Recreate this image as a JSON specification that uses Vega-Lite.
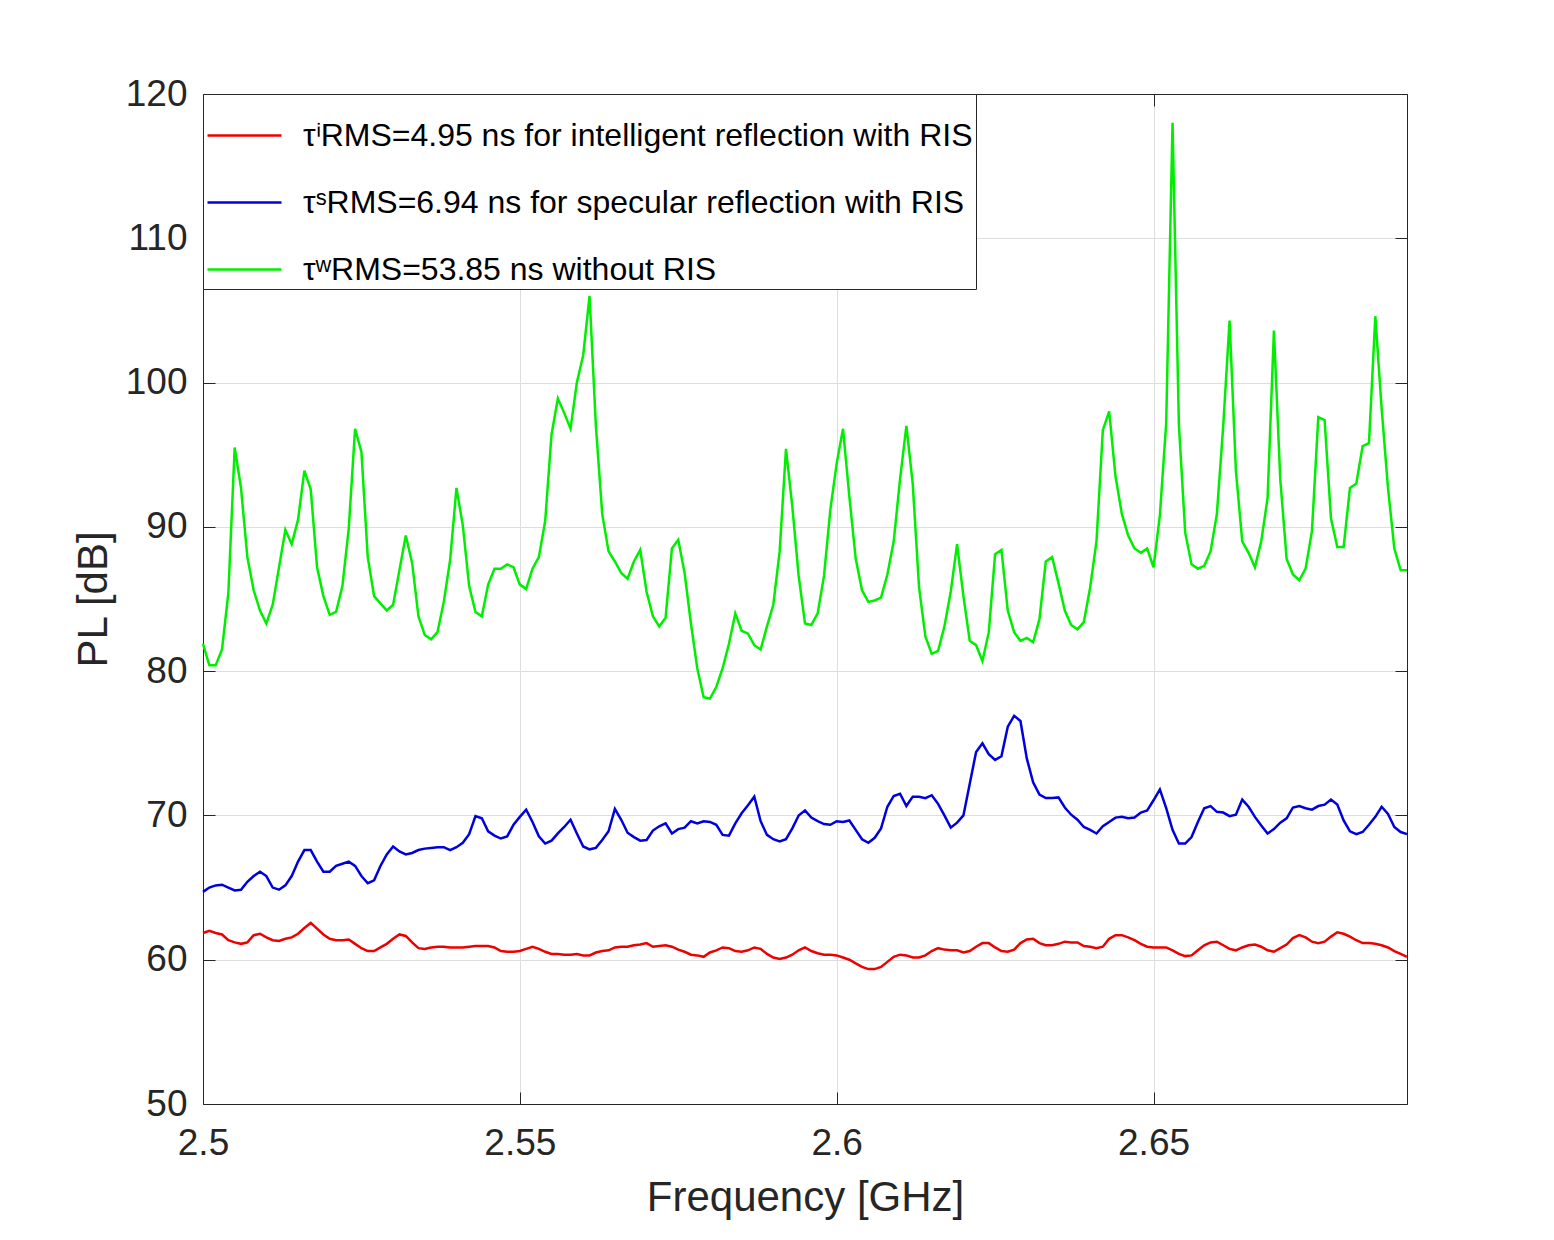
{
  "$schema": "https://vega.github.io/schema/vega-lite/v6.json",
  "width": 1204,
  "height": 1010,
  "autosize": "none",
  "padding": {"left": 203, "top": 94, "right": 147, "bottom": 136},
  "background": "white",
  "data": {
    "values": [
      {"f": 2.5, "i": 61.85, "s": 64.7, "w": 81.9},
      {"f": 2.501, "i": 62.0, "s": 65.0, "w": 80.4},
      {"f": 2.502, "i": 61.85, "s": 65.15, "w": 80.4},
      {"f": 2.503, "i": 61.75, "s": 65.2, "w": 81.5},
      {"f": 2.504, "i": 61.35, "s": 65.0, "w": 85.4},
      {"f": 2.505, "i": 61.2, "s": 64.8, "w": 95.5},
      {"f": 2.506, "i": 61.1, "s": 64.85, "w": 92.7},
      {"f": 2.507, "i": 61.2, "s": 65.4, "w": 87.9},
      {"f": 2.508, "i": 61.7, "s": 65.8, "w": 85.6},
      {"f": 2.509, "i": 61.8, "s": 66.1, "w": 84.2},
      {"f": 2.51, "i": 61.55, "s": 65.8, "w": 83.3},
      {"f": 2.511, "i": 61.35, "s": 65.0, "w": 84.6},
      {"f": 2.512, "i": 61.3, "s": 64.85, "w": 87.2},
      {"f": 2.513, "i": 61.45, "s": 65.15, "w": 89.8},
      {"f": 2.514, "i": 61.55, "s": 65.8, "w": 88.8},
      {"f": 2.515, "i": 61.8, "s": 66.8, "w": 90.5},
      {"f": 2.516, "i": 62.2, "s": 67.6, "w": 93.9},
      {"f": 2.517, "i": 62.55, "s": 67.6, "w": 92.6},
      {"f": 2.518, "i": 62.15, "s": 66.8, "w": 87.2},
      {"f": 2.519, "i": 61.75, "s": 66.1, "w": 85.2},
      {"f": 2.52, "i": 61.45, "s": 66.1, "w": 83.9},
      {"f": 2.521, "i": 61.35, "s": 66.5, "w": 84.1},
      {"f": 2.522, "i": 61.35, "s": 66.65, "w": 85.9},
      {"f": 2.523, "i": 61.4, "s": 66.8, "w": 89.9},
      {"f": 2.524, "i": 61.1, "s": 66.5, "w": 96.8},
      {"f": 2.525, "i": 60.8, "s": 65.8, "w": 95.2},
      {"f": 2.526, "i": 60.6, "s": 65.3, "w": 87.9},
      {"f": 2.527, "i": 60.6, "s": 65.5, "w": 85.2},
      {"f": 2.528, "i": 60.85, "s": 66.5, "w": 84.7},
      {"f": 2.529, "i": 61.1, "s": 67.3, "w": 84.2},
      {"f": 2.53, "i": 61.45, "s": 67.85, "w": 84.6},
      {"f": 2.531, "i": 61.75, "s": 67.5, "w": 87.0},
      {"f": 2.532, "i": 61.65, "s": 67.3, "w": 89.4},
      {"f": 2.533, "i": 61.2, "s": 67.4, "w": 87.5},
      {"f": 2.534, "i": 60.8, "s": 67.6, "w": 83.8},
      {"f": 2.535, "i": 60.75, "s": 67.7, "w": 82.5},
      {"f": 2.536, "i": 60.85, "s": 67.75, "w": 82.2},
      {"f": 2.537, "i": 60.9, "s": 67.8, "w": 82.7},
      {"f": 2.538, "i": 60.9, "s": 67.8, "w": 84.8},
      {"f": 2.539, "i": 60.85, "s": 67.6, "w": 87.7},
      {"f": 2.54, "i": 60.85, "s": 67.8, "w": 92.7},
      {"f": 2.541, "i": 60.85, "s": 68.1, "w": 90.1},
      {"f": 2.542, "i": 60.9, "s": 68.7, "w": 85.9},
      {"f": 2.543, "i": 60.95, "s": 69.95, "w": 84.1},
      {"f": 2.544, "i": 60.95, "s": 69.8, "w": 83.8},
      {"f": 2.545, "i": 60.95, "s": 68.9, "w": 86.0},
      {"f": 2.546, "i": 60.85, "s": 68.6, "w": 87.1},
      {"f": 2.547, "i": 60.6, "s": 68.4, "w": 87.1},
      {"f": 2.548, "i": 60.55, "s": 68.55, "w": 87.4},
      {"f": 2.549, "i": 60.55, "s": 69.35, "w": 87.2},
      {"f": 2.55, "i": 60.6, "s": 69.9, "w": 86.0},
      {"f": 2.551, "i": 60.75, "s": 70.4, "w": 85.7},
      {"f": 2.552, "i": 60.9, "s": 69.55, "w": 87.1},
      {"f": 2.553, "i": 60.75, "s": 68.55, "w": 87.9},
      {"f": 2.554, "i": 60.55, "s": 68.05, "w": 90.4},
      {"f": 2.555, "i": 60.4, "s": 68.25, "w": 96.4},
      {"f": 2.556, "i": 60.4, "s": 68.75, "w": 98.9},
      {"f": 2.557, "i": 60.35, "s": 69.2, "w": 97.9},
      {"f": 2.558, "i": 60.35, "s": 69.7, "w": 96.8},
      {"f": 2.559, "i": 60.4, "s": 68.75, "w": 100.0},
      {"f": 2.56, "i": 60.3, "s": 67.85, "w": 101.9},
      {"f": 2.561, "i": 60.3, "s": 67.65, "w": 106.0},
      {"f": 2.562, "i": 60.5, "s": 67.75, "w": 97.0},
      {"f": 2.563, "i": 60.6, "s": 68.3, "w": 90.9},
      {"f": 2.564, "i": 60.65, "s": 68.9, "w": 88.3},
      {"f": 2.565, "i": 60.85, "s": 70.45, "w": 87.6},
      {"f": 2.566, "i": 60.9, "s": 69.7, "w": 86.8},
      {"f": 2.567, "i": 60.9, "s": 68.8, "w": 86.4},
      {"f": 2.568, "i": 61.0, "s": 68.5, "w": 87.6},
      {"f": 2.569, "i": 61.05, "s": 68.25, "w": 88.4},
      {"f": 2.57, "i": 61.15, "s": 68.3, "w": 85.5},
      {"f": 2.571, "i": 60.9, "s": 68.95, "w": 83.8},
      {"f": 2.572, "i": 60.95, "s": 69.25, "w": 83.1},
      {"f": 2.573, "i": 61.0, "s": 69.45, "w": 83.7},
      {"f": 2.574, "i": 60.9, "s": 68.75, "w": 88.5},
      {"f": 2.575, "i": 60.7, "s": 69.05, "w": 89.1},
      {"f": 2.576, "i": 60.55, "s": 69.15, "w": 86.8},
      {"f": 2.577, "i": 60.35, "s": 69.6, "w": 83.3},
      {"f": 2.578, "i": 60.3, "s": 69.45, "w": 80.2},
      {"f": 2.579, "i": 60.2, "s": 69.6, "w": 78.2},
      {"f": 2.58, "i": 60.5, "s": 69.55, "w": 78.1},
      {"f": 2.581, "i": 60.65, "s": 69.35, "w": 78.9},
      {"f": 2.582, "i": 60.85, "s": 68.65, "w": 80.2},
      {"f": 2.583, "i": 60.8, "s": 68.6, "w": 81.9},
      {"f": 2.584, "i": 60.6, "s": 69.45, "w": 84.0},
      {"f": 2.585, "i": 60.55, "s": 70.15, "w": 82.8},
      {"f": 2.586, "i": 60.65, "s": 70.7, "w": 82.6},
      {"f": 2.587, "i": 60.85, "s": 71.3, "w": 81.8},
      {"f": 2.588, "i": 60.75, "s": 69.6, "w": 81.5},
      {"f": 2.589, "i": 60.4, "s": 68.65, "w": 83.1},
      {"f": 2.59, "i": 60.15, "s": 68.35, "w": 84.6},
      {"f": 2.591, "i": 60.05, "s": 68.2, "w": 88.3},
      {"f": 2.592, "i": 60.15, "s": 68.35, "w": 95.4},
      {"f": 2.593, "i": 60.35, "s": 69.1, "w": 91.4},
      {"f": 2.594, "i": 60.65, "s": 70.0, "w": 86.6},
      {"f": 2.595, "i": 60.85, "s": 70.35, "w": 83.3},
      {"f": 2.596, "i": 60.6, "s": 69.85, "w": 83.2},
      {"f": 2.597, "i": 60.45, "s": 69.6, "w": 84.0},
      {"f": 2.598, "i": 60.35, "s": 69.4, "w": 86.6},
      {"f": 2.599, "i": 60.35, "s": 69.35, "w": 91.2},
      {"f": 2.6, "i": 60.3, "s": 69.6, "w": 94.4},
      {"f": 2.601, "i": 60.15, "s": 69.55, "w": 96.8},
      {"f": 2.602, "i": 60.0, "s": 69.65, "w": 92.1},
      {"f": 2.603, "i": 59.75, "s": 69.0, "w": 87.8},
      {"f": 2.604, "i": 59.5, "s": 68.35, "w": 85.6},
      {"f": 2.605, "i": 59.35, "s": 68.1, "w": 84.8},
      {"f": 2.606, "i": 59.35, "s": 68.45, "w": 84.9},
      {"f": 2.607, "i": 59.5, "s": 69.1, "w": 85.1},
      {"f": 2.608, "i": 59.85, "s": 70.6, "w": 86.7},
      {"f": 2.609, "i": 60.2, "s": 71.35, "w": 89.0},
      {"f": 2.61, "i": 60.35, "s": 71.5, "w": 93.3},
      {"f": 2.611, "i": 60.3, "s": 70.65, "w": 97.0},
      {"f": 2.612, "i": 60.15, "s": 71.3, "w": 93.0},
      {"f": 2.613, "i": 60.15, "s": 71.3, "w": 85.8},
      {"f": 2.614, "i": 60.3, "s": 71.2, "w": 82.4},
      {"f": 2.615, "i": 60.6, "s": 71.4, "w": 81.2},
      {"f": 2.616, "i": 60.8, "s": 70.8, "w": 81.4},
      {"f": 2.617, "i": 60.7, "s": 70.0, "w": 83.1},
      {"f": 2.618, "i": 60.65, "s": 69.15, "w": 85.5},
      {"f": 2.619, "i": 60.65, "s": 69.5, "w": 88.8},
      {"f": 2.62, "i": 60.5, "s": 70.0, "w": 85.2},
      {"f": 2.621, "i": 60.6, "s": 72.2, "w": 82.1},
      {"f": 2.622, "i": 60.9, "s": 74.4, "w": 81.8},
      {"f": 2.623, "i": 61.15, "s": 75.0, "w": 80.7},
      {"f": 2.624, "i": 61.15, "s": 74.25, "w": 82.7},
      {"f": 2.625, "i": 60.85, "s": 73.85, "w": 88.1},
      {"f": 2.626, "i": 60.6, "s": 74.1, "w": 88.4},
      {"f": 2.627, "i": 60.55, "s": 76.15, "w": 84.2},
      {"f": 2.628, "i": 60.7, "s": 76.9, "w": 82.7},
      {"f": 2.629, "i": 61.15, "s": 76.55, "w": 82.1},
      {"f": 2.63, "i": 61.4, "s": 73.95, "w": 82.3},
      {"f": 2.631, "i": 61.45, "s": 72.3, "w": 82.0},
      {"f": 2.632, "i": 61.15, "s": 71.45, "w": 83.6},
      {"f": 2.633, "i": 61.0, "s": 71.2, "w": 87.6},
      {"f": 2.634, "i": 61.0, "s": 71.2, "w": 87.9},
      {"f": 2.635, "i": 61.1, "s": 71.25, "w": 86.1},
      {"f": 2.636, "i": 61.25, "s": 70.55, "w": 84.2},
      {"f": 2.637, "i": 61.2, "s": 70.05, "w": 83.2},
      {"f": 2.638, "i": 61.2, "s": 69.7, "w": 82.9},
      {"f": 2.639, "i": 60.95, "s": 69.2, "w": 83.4},
      {"f": 2.64, "i": 60.9, "s": 69.0, "w": 85.8},
      {"f": 2.641, "i": 60.8, "s": 68.75, "w": 89.0},
      {"f": 2.642, "i": 60.9, "s": 69.25, "w": 96.7},
      {"f": 2.643, "i": 61.45, "s": 69.55, "w": 98.0},
      {"f": 2.644, "i": 61.7, "s": 69.85, "w": 93.5},
      {"f": 2.645, "i": 61.7, "s": 69.9, "w": 90.9},
      {"f": 2.646, "i": 61.55, "s": 69.8, "w": 89.4},
      {"f": 2.647, "i": 61.35, "s": 69.85, "w": 88.5},
      {"f": 2.648, "i": 61.1, "s": 70.2, "w": 88.2},
      {"f": 2.649, "i": 60.9, "s": 70.35, "w": 88.5},
      {"f": 2.65, "i": 60.85, "s": 71.05, "w": 87.2},
      {"f": 2.651, "i": 60.85, "s": 71.8, "w": 90.8},
      {"f": 2.652, "i": 60.85, "s": 70.5, "w": 97.2},
      {"f": 2.653, "i": 60.65, "s": 69.0, "w": 118.0},
      {"f": 2.654, "i": 60.4, "s": 68.05, "w": 97.1},
      {"f": 2.655, "i": 60.25, "s": 68.05, "w": 89.6},
      {"f": 2.656, "i": 60.3, "s": 68.5, "w": 87.4},
      {"f": 2.657, "i": 60.65, "s": 69.55, "w": 87.1},
      {"f": 2.658, "i": 61.0, "s": 70.5, "w": 87.3},
      {"f": 2.659, "i": 61.2, "s": 70.65, "w": 88.3},
      {"f": 2.66, "i": 61.25, "s": 70.25, "w": 90.9},
      {"f": 2.661, "i": 61.0, "s": 70.2, "w": 97.0},
      {"f": 2.662, "i": 60.75, "s": 69.95, "w": 104.3},
      {"f": 2.663, "i": 60.65, "s": 70.05, "w": 93.9},
      {"f": 2.664, "i": 60.85, "s": 71.1, "w": 89.0},
      {"f": 2.665, "i": 61.0, "s": 70.6, "w": 88.2},
      {"f": 2.666, "i": 61.05, "s": 69.9, "w": 87.2},
      {"f": 2.667, "i": 60.9, "s": 69.3, "w": 89.0},
      {"f": 2.668, "i": 60.65, "s": 68.75, "w": 92.0},
      {"f": 2.669, "i": 60.55, "s": 69.05, "w": 103.6},
      {"f": 2.67, "i": 60.8, "s": 69.5, "w": 93.3},
      {"f": 2.671, "i": 61.05, "s": 69.8, "w": 87.8},
      {"f": 2.672, "i": 61.5, "s": 70.55, "w": 86.7},
      {"f": 2.673, "i": 61.7, "s": 70.65, "w": 86.3},
      {"f": 2.674, "i": 61.55, "s": 70.5, "w": 87.1},
      {"f": 2.675, "i": 61.25, "s": 70.4, "w": 89.7},
      {"f": 2.676, "i": 61.15, "s": 70.65, "w": 97.6},
      {"f": 2.677, "i": 61.25, "s": 70.75, "w": 97.4},
      {"f": 2.678, "i": 61.6, "s": 71.1, "w": 90.6},
      {"f": 2.679, "i": 61.9, "s": 70.75, "w": 88.6},
      {"f": 2.68, "i": 61.8, "s": 69.65, "w": 88.6},
      {"f": 2.681, "i": 61.6, "s": 68.9, "w": 92.7},
      {"f": 2.682, "i": 61.35, "s": 68.7, "w": 93.0},
      {"f": 2.683, "i": 61.15, "s": 68.85, "w": 95.6},
      {"f": 2.684, "i": 61.15, "s": 69.35, "w": 95.8},
      {"f": 2.685, "i": 61.1, "s": 69.9, "w": 104.6},
      {"f": 2.686, "i": 61.0, "s": 70.6, "w": 98.2},
      {"f": 2.687, "i": 60.85, "s": 70.1, "w": 92.7},
      {"f": 2.688, "i": 60.6, "s": 69.2, "w": 88.5},
      {"f": 2.689, "i": 60.4, "s": 68.85, "w": 87.0},
      {"f": 2.69, "i": 60.2, "s": 68.7, "w": 87.0}
    ]
  },
  "transform": [
    {"fold": ["i", "s", "w"], "as": ["series", "PL"]}
  ],
  "layer": [
    {
      "mark": {"type": "line", "strokeWidth": 2.5},
      "encoding": {
        "x": {
          "field": "f",
          "type": "quantitative",
          "scale": {"domain": [2.5, 2.69], "nice": false, "zero": false},
          "axis": {
            "orient": "bottom",
            "title": "Frequency [GHz]",
            "values": [2.5, 2.55, 2.6, 2.65],
            "format": "~g",
            "labelFlush": false,
            "labelPadding": 33,
            "titlePadding": 16
          }
        },
        "y": {
          "field": "PL",
          "type": "quantitative",
          "scale": {"domain": [50, 120], "nice": false, "zero": false},
          "axis": {
            "orient": "left",
            "title": "PL [dB]",
            "values": [50, 60, 70, 80, 90, 100, 110, 120],
            "labelPadding": 28,
            "titlePadding": 10
          }
        },
        "color": {
          "field": "series",
          "type": "nominal",
          "scale": {"domain": ["i", "s", "w"], "range": ["#ee0000", "#0000dd", "#00ee00"]},
          "legend": {
            "orient": "top-left",
            "offset": 0,
            "title": null,
            "fillColor": "white",
            "strokeColor": "#262626",
            "padding": 3,
            "symbolType": "stroke",
            "symbolSize": 5476,
            "symbolStrokeWidth": 2.5,
            "labelFontSize": 32,
            "labelColor": "black",
            "labelLimit": 0,
            "labelOffset": 20,
            "rowPadding": 12,
            "labelExpr": "datum.label == 'i' ? 'τⁱRMS=4.95 ns for intelligent reflection with RIS' : datum.label == 's' ? 'τˢRMS=6.94 ns for specular reflection with RIS' : 'τʷRMS=53.85 ns without RIS'"
          }
        }
      }
    },
    {
      "mark": {"type": "line", "opacity": 0},
      "encoding": {
        "x": {
          "field": "f",
          "type": "quantitative",
          "axis": {"orient": "top", "title": null, "labels": false, "grid": false, "values": [2.5, 2.55, 2.6, 2.65]}
        },
        "y": {
          "field": "PL",
          "type": "quantitative",
          "axis": {"orient": "right", "title": null, "labels": false, "grid": false, "values": [50, 60, 70, 80, 90, 100, 110, 120]}
        },
        "detail": {"field": "series"}
      }
    }
  ],
  "resolve": {"axis": {"x": "independent", "y": "independent"}},
  "config": {
    "font": "Liberation Sans",
    "view": {"stroke": null},
    "axis": {
      "labelFont": "Liberation Sans",
      "labelFontSize": 37,
      "labelColor": "#262626",
      "titleFont": "Liberation Sans",
      "titleFontSize": 42,
      "titleFontWeight": "normal",
      "titleColor": "#262626",
      "domainColor": "#262626",
      "domainWidth": 1,
      "tickColor": "#262626",
      "tickSize": -12,
      "tickWidth": 1,
      "grid": true,
      "gridColor": "#dedede",
      "gridWidth": 1,
      "labelOverlap": false
    },
    "legend": {"labelFont": "Liberation Sans"}
  }
}
